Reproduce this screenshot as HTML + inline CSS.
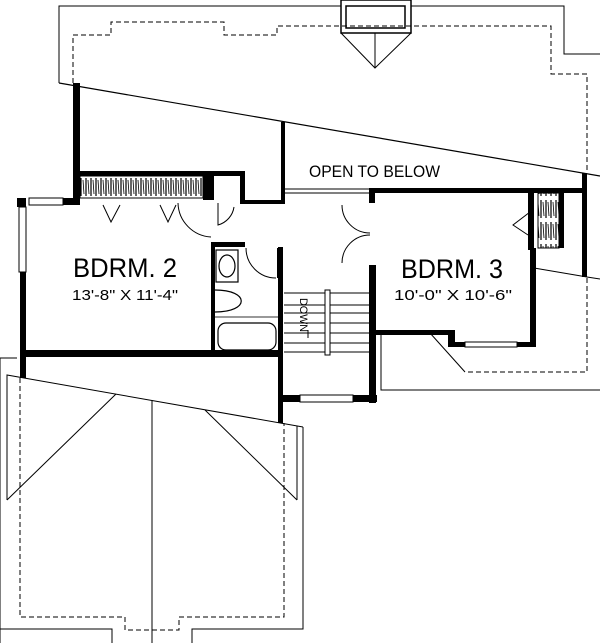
<!DOCTYPE html>
<html><head><style>body{margin:0;background:#fff}svg{display:block}</style></head><body>
<svg width="600" height="643" viewBox="0 0 600 643" xmlns="http://www.w3.org/2000/svg">
<defs>
<pattern id="h" width="5" height="22" patternUnits="userSpaceOnUse">
<rect width="5" height="22" fill="#fff"/><line x1="1" y1="2" x2="1" y2="20" stroke="#000" stroke-width="1.2"/><line x1="3" y1="4" x2="4" y2="18" stroke="#000" stroke-width="0.8"/>
</pattern>
</defs>
<g fill="none" stroke="#000" stroke-width="1">
<polyline points="59,83 59,6 341,6"/>
<polyline points="411,6 564,6 564,54 600,54"/>
<rect x="341" y="0" width="70" height="33" stroke-width="1.5"/>
<rect x="346" y="6" width="59" height="22" stroke-width="1.5"/>
<polyline points="341,33 375,68 411,33"/>
<line x1="375" y1="33" x2="375" y2="68"/>
<polyline stroke-dasharray="5,3" points="73,83 73,35 111,35 111,22 224,22 224,35 277,35 277,26 551,26 551,74 587,74 587,173"/>
<line x1="59" y1="83" x2="600" y2="176" stroke-width="1.2"/>
<line x1="284" y1="189" x2="370" y2="189"/>
<line x1="284" y1="193" x2="370" y2="193"/>
<polyline points="534,268 587,277 600,279"/>
<polyline stroke-dasharray="5,3" points="587,278 587,372 465,372"/>
<line x1="430" y1="333" x2="465" y2="372"/>
<polyline points="381,335 381,390 600,390"/>
<line x1="284" y1="293" x2="370" y2="293"/>
<g>
<line x1="284" y1="305" x2="370" y2="305"/><line x1="284" y1="313" x2="370" y2="313"/>
<line x1="284" y1="323" x2="370" y2="323"/><line x1="284" y1="333" x2="370" y2="333"/>
<line x1="284" y1="343" x2="370" y2="343"/><line x1="284" y1="352" x2="370" y2="352"/>
</g>
<rect x="325" y="290" width="5" height="65" fill="#fff"/>
<line x1="308" y1="330" x2="308" y2="338"/>
<polyline points="0,643 0,358 17,358"/>
<polyline points="112,643 112,629 0,629"/>
<polyline points="192,643 192,629 303,629 303,427"/>
<polyline points="7,500 7,375 303,427"/>
<line x1="297" y1="426" x2="297" y2="500"/>
<line x1="116" y1="394" x2="7" y2="500"/>
<line x1="205" y1="410" x2="297" y2="500"/>
<line x1="152" y1="400" x2="152" y2="643"/>
<polyline stroke-dasharray="5,3" points="20,378 20,617 125,617 125,630 179,630 179,617 284,617 284,423"/>
<rect x="216" y="250" width="22" height="32" stroke-width="1.2"/>
<ellipse cx="227" cy="266" rx="8" ry="11" stroke-width="1.2"/>
<path d="M215,290 C250,290 250,312 215,312" stroke-width="1.2"/>
<rect x="218" y="323" width="58" height="27" rx="8" stroke-width="1.2"/>
<rect x="213" y="317" width="66" height="37" stroke-width="0.8"/>
<path d="M178,203 A35,35 0 0 0 211,237"/>
<path d="M218,203 L218,225 A22,22 0 0 0 234,207"/>
<path d="M246,248 A30,30 0 0 0 276,278"/>
<line x1="278" y1="248" x2="278" y2="278" stroke-width="2"/>
<path d="M342,205 A28,28 0 0 0 370,233 M370,235 A28,28 0 0 0 342,263"/>
<polyline points="103,205 111,222 120,205"/>
<polyline points="160,205 168,222 176,205"/>
<polyline points="530,212 513,225 528,235"/>
<rect x="19" y="207" width="7" height="65" fill="#fff"/>
<rect x="29" y="198" width="34" height="7" fill="#fff"/>
</g>
<g fill="#000">
<rect x="73" y="83" width="7" height="117"/>
<rect x="281" y="122" width="4" height="81"/>
<rect x="73" y="171" width="172" height="5"/>
<rect x="240" y="171" width="5" height="33"/>
<rect x="203" y="176" width="11" height="24"/>
<rect x="245" y="200" width="40" height="4"/>
<rect x="63" y="198" width="17" height="7"/>
<rect x="17" y="198" width="9" height="9"/>
<rect x="20" y="205" width="6" height="2"/>
<rect x="20" y="272" width="6" height="106"/>
<rect x="369" y="188" width="218" height="5"/>
<rect x="369" y="188" width="6" height="15"/>
<rect x="582" y="173" width="5" height="104"/>
<rect x="528" y="190" width="6" height="60"/>
<rect x="559" y="190" width="5" height="58"/>
<rect x="211" y="242" width="4" height="115"/>
<rect x="211" y="242" width="34" height="5"/>
<rect x="278" y="247" width="5" height="176"/>
<rect x="20" y="350" width="263" height="7"/>
<rect x="369" y="265" width="7" height="138"/>
<rect x="376" y="330" width="79" height="5"/>
<rect x="448" y="330" width="7" height="17"/>
<rect x="448" y="342" width="88" height="5"/>
<rect x="530" y="248" width="6" height="99"/>
<rect x="283" y="395" width="94" height="7"/>
</g>
<rect x="80" y="176" width="123" height="22" fill="url(#h)" stroke="#000" stroke-width="1"/>
<rect x="538" y="193" width="21" height="55" fill="url(#h)" stroke="#000" stroke-width="1"/>
<rect x="300" y="395" width="53" height="7" fill="#fff" stroke="#000"/>
<rect x="465" y="342" width="52" height="5" fill="#fff" stroke="#000"/>
<g font-family="Liberation Sans, sans-serif" fill="#000">
<text x="309" y="177" font-size="17" textLength="131" lengthAdjust="spacingAndGlyphs">OPEN TO BELOW</text>
<text x="73" y="277" font-size="27" textLength="104" lengthAdjust="spacingAndGlyphs">BDRM. 2</text>
<text x="72" y="300" font-size="15" textLength="106" lengthAdjust="spacingAndGlyphs">13'-8" X 11'-4"</text>
<text x="401" y="278" font-size="27" textLength="102" lengthAdjust="spacingAndGlyphs">BDRM. 3</text>
<text x="394" y="300" font-size="15" textLength="118" lengthAdjust="spacingAndGlyphs">10'-0" X 10'-6"</text>
<text transform="translate(300,298) rotate(90)" font-size="11" textLength="34" lengthAdjust="spacingAndGlyphs">DOWN</text>
</g>
</svg>
</body></html>
